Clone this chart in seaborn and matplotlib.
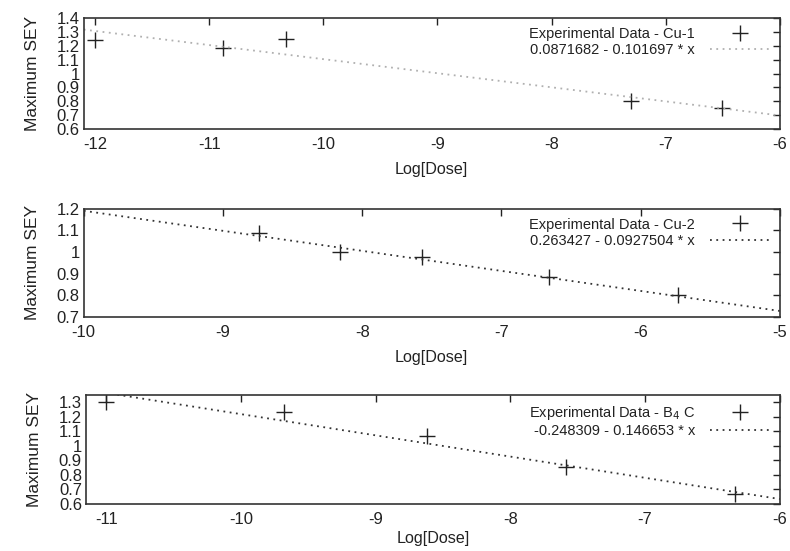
import matplotlib
matplotlib.use("Agg")
import matplotlib.pyplot as plt
import seaborn as sns
import pandas as pd
import numpy as np

sns.set_theme(style="white")
plt.rcParams['font.family'] = ['Liberation Sans', 'DejaVu Sans']

# ---- data ----
cu1_x = [-12.0, -10.88, -10.33, -7.30, -6.51]
cu1_y = [1.24, 1.185, 1.25, 0.80, 0.75]
cu2_x = [-8.74, -8.16, -7.57, -6.66, -5.73]
cu2_y = [1.09, 1.00, 0.978, 0.885, 0.80]
b4c_x = [-11.0, -9.68, -8.62, -7.59, -6.33]
b4c_y = [1.30, 1.235, 1.07, 0.85, 0.665]

fit_intercepts = [0.0871682, 0.263427, -0.248309]
fit_slopes = [-0.101697, -0.0927504, -0.146653]
data_labels = ["Experimental Data - Cu-1", "Experimental Data - Cu-2",
               "Experimental Data - B$_4$ C"]
fit_labels = ["0.0871682 - 0.101697 * x", "0.263427 - 0.0927504 * x",
              "-0.248309 - 0.146653 * x"]

xlims = [(-12.1, -6), (-10, -5), (-11.15, -6)]
ylims = [(0.6, 1.4), (0.7, 1.2), (0.6, 1.35)]
xticks = [[-12, -11, -10, -9, -8, -7, -6], [-10, -9, -8, -7, -6, -5],
          [-11, -10, -9, -8, -7, -6]]
yticks = [[0.6, 0.7, 0.8, 0.9, 1.0, 1.1, 1.2, 1.3, 1.4],
          [0.7, 0.8, 0.9, 1.0, 1.1, 1.2],
          [0.6, 0.7, 0.8, 0.9, 1.0, 1.1, 1.2, 1.3]]
line_colors = ['#b0b0b0', '#333333', '#333333']

fig = plt.figure(figsize=(7.9, 5.51), dpi=100)
rects = [(0.106, 0.766, 0.881, 0.201),
         (0.106, 0.425, 0.881, 0.196),
         (0.109, 0.086, 0.878, 0.197)]
xlabel_pads = [7, 7, 3]

datasets = [(cu1_x, cu1_y), (cu2_x, cu2_y), (b4c_x, b4c_y)]

def fmt(v):
    return '%g' % v

for i, (xs, ys) in enumerate(datasets):
    ax = fig.add_axes(rects[i])
    df = pd.DataFrame({'x': xs, 'y': ys})
    lx = np.array(xlims[i], dtype=float)
    ly = fit_intercepts[i] + fit_slopes[i] * lx
    ldf = pd.DataFrame({'x': lx, 'y': ly})
    ax.plot(df['x'], df['y'], linestyle='none', marker='+', markersize=11,
            markeredgewidth=1.0, color='#222222', label=data_labels[i])
    sns.lineplot(data=ldf, x='x', y='y', ax=ax, color=line_colors[i],
                 linestyle=(0, (1, 2.5)), linewidth=1.3, label=fit_labels[i])
    ax.set_xlim(*xlims[i])
    ax.set_ylim(*ylims[i])
    ax.set_xticks(xticks[i])
    ax.set_yticks(yticks[i])
    ax.set_xticklabels([fmt(t) for t in xticks[i]])
    ax.set_yticklabels([fmt(t) for t in yticks[i]])
    ax.tick_params(direction='in', top=True, right=True, length=5, width=1,
                   labelsize=12, colors='#222222', pad=6)
    ax.tick_params(axis='y', pad=3)
    for sp in ax.spines.values():
        sp.set_visible(True)
        sp.set_color('#333333')
        sp.set_linewidth(1.2)
    ax.set_xlabel('Log[Dose]', fontsize=11.6, color='#222222',
                  labelpad=xlabel_pads[i])
    ax.set_ylabel('Maximum SEY', fontsize=12.5, color='#222222', labelpad=12)
    leg = ax.legend(loc='upper right', frameon=False, markerfirst=False,
                    fontsize=10.5, handlelength=4.2, borderaxespad=0.2,
                    handletextpad=1.0, labelspacing=0.15)
    for t in leg.get_texts():
        t.set_color('#222222')

fig.savefig('out.png', dpi=100)
